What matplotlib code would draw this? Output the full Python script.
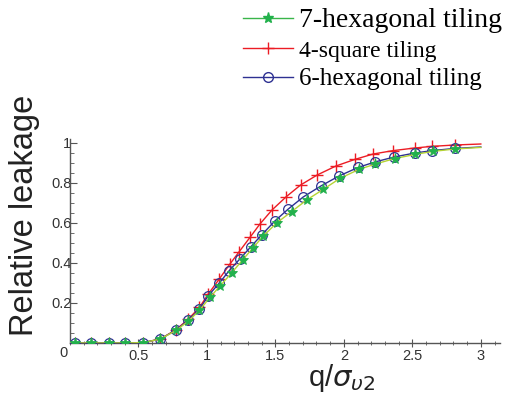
import matplotlib
matplotlib.use("Agg")
import matplotlib.pyplot as plt
from matplotlib.lines import Line2D
from matplotlib.ticker import MultipleLocator

# ---- data ----
hex7_x = [0.0, 0.04, 0.15, 0.285, 0.405, 0.535, 0.66, 0.775, 0.865, 0.945, 1.022, 1.095, 1.18, 1.26,
          1.338, 1.411, 1.509, 1.618, 1.728, 1.849, 1.971, 2.11, 2.23, 2.37, 2.52, 2.65, 2.81, 3.0]
hex7_y = [0.0, 0.0, 0.0, 0.0, 0.0, 0.002, 0.02, 0.063, 0.11, 0.163, 0.228, 0.285, 0.35, 0.415,
          0.477, 0.535, 0.6, 0.657, 0.715, 0.768, 0.823, 0.868, 0.895, 0.922, 0.943, 0.958, 0.97, 0.978]

sq4_x = [0.0, 0.04, 0.15, 0.285, 0.405, 0.535, 0.66, 0.775, 0.865, 0.945, 1.01, 1.09, 1.168, 1.236,
         1.314, 1.387, 1.475, 1.58, 1.684, 1.805, 1.942, 2.08, 2.214, 2.36, 2.518, 2.64, 2.81, 3.0]
sq4_y = [0.0, 0.0, 0.0, 0.0, 0.0, 0.002, 0.02, 0.067, 0.12, 0.178, 0.245, 0.32, 0.395, 0.457,
         0.528, 0.595, 0.665, 0.732, 0.79, 0.84, 0.885, 0.918, 0.945, 0.962, 0.975, 0.983, 0.99, 0.995]

hex6_x = [0.0, 0.04, 0.15, 0.285, 0.405, 0.535, 0.66, 0.775, 0.865, 0.945, 1.01, 1.088, 1.163, 1.24,
          1.319, 1.399, 1.496, 1.594, 1.703, 1.832, 1.964, 2.105, 2.226, 2.367, 2.518, 2.647, 2.81, 3.0]
hex6_y = [0.0, 0.0, 0.0, 0.0, 0.0, 0.002, 0.02, 0.065, 0.115, 0.168, 0.237, 0.298, 0.362, 0.42,
          0.48, 0.54, 0.61, 0.67, 0.73, 0.785, 0.835, 0.878, 0.905, 0.93, 0.95, 0.962, 0.973, 0.98]

labels = ["7-hexagonal tiling", "4-square tiling", "6-hexagonal tiling"]
xtick_vals = [0.5, 1, 1.5, 2, 2.5, 3]
xtick_labels = ["0.5", "1", "1.5", "2", "2.5", "3"]
ytick_vals = [0.2, 0.4, 0.6, 0.8, 1.0]
ytick_labels = ["0.2", "0.4", "0.6", "0.8", "1"]

RED = "#ec1c24"
BLUE = "#2e3192"
GREEN_M = "#22b14c"
GREEN_L = "#b5d334"

fig = plt.figure(figsize=(5.09, 3.98), dpi=100)
ax = fig.add_axes([70 / 509, 55 / 398, 430 / 509, 204 / 398])

mk = slice(1, -1)
ax.plot(sq4_x, sq4_y, color=RED, lw=1.0, marker="+", ms=8, mew=1.0, markevery=mk, zorder=2)
ax.plot(hex6_x, hex6_y, color=BLUE, lw=1.0, marker="o", ms=7, mfc="none", mec=BLUE, mew=0.9,
        markevery=mk, zorder=3)
ax.plot(hex7_x, hex7_y, color=GREEN_L, lw=1.0, marker="*", ms=8, mfc=GREEN_M, mec=GREEN_M,
        mew=0.6, markevery=mk, zorder=4)

ax.set_xlim(0, 3.14)
ax.set_ylim(0, 1.02)
for s in ["top", "right"]:
    ax.spines[s].set_visible(False)
for s in ["left", "bottom"]:
    ax.spines[s].set_color("#555555")
    ax.spines[s].set_linewidth(1.0)

ax.set_xticks(xtick_vals)
ax.set_xticklabels(xtick_labels)
ax.set_yticks(ytick_vals)
ax.set_yticklabels(ytick_labels)
ax.xaxis.set_minor_locator(MultipleLocator(0.1))
ax.yaxis.set_minor_locator(MultipleLocator(0.05))
ax.tick_params(axis="x", which="major", direction="inout", length=6, width=0.8, color="#555555",
               pad=1, labelsize=10.5, labelcolor="#333333")
ax.tick_params(axis="x", which="minor", direction="inout", length=3, width=0.6, color="#555555")
ax.tick_params(axis="y", which="major", direction="in", length=5, width=0.8, color="#555555",
               pad=-1, labelsize=10.5, labelcolor="#333333")
ax.tick_params(axis="y", which="minor", direction="in", length=3, width=0.6, color="#555555")
for t in ax.get_xticklabels() + ax.get_yticklabels():
    t.set_fontfamily("Liberation Sans")

ax.text(-0.05, -0.015, "0", transform=ax.transData, ha="center", va="top",
        fontsize=10.5, color="#333333", family="Liberation Sans")

fig.text(25 / 509, 1 - 215 / 398, "Relative leakage", rotation=90, ha="center", va="center",
         fontsize=23.5, family="Liberation Sans", color="#222222")
fig.text(342 / 509, 1 - 386 / 398, r"q/$\sigma_{\upsilon 2}$", ha="center", va="baseline",
         fontsize=21, family="Liberation Sans", color="#222222")

handles = [
    Line2D([], [], color="#39b54a", lw=1.0, marker="*", ms=8, mfc=GREEN_M, mec=GREEN_M),
    Line2D([], [], color=RED, lw=1.0, marker="+", ms=8, mew=1.0),
    Line2D([], [], color=BLUE, lw=1.0, marker="o", ms=7, mfc="none", mec=BLUE),
]
leg = fig.legend(handles, labels, loc="upper right", bbox_to_anchor=(1.03, 1.037), frameon=False,
                 handlelength=2.0, handletextpad=0.25, labelspacing=0.25,
                 prop={"family": "Liberation Serif", "size": 18})
sizes = [20, 17, 18]
for t, s in zip(leg.get_texts(), sizes):
    t.set_fontsize(s)

fig.savefig("out.png", dpi=100)
